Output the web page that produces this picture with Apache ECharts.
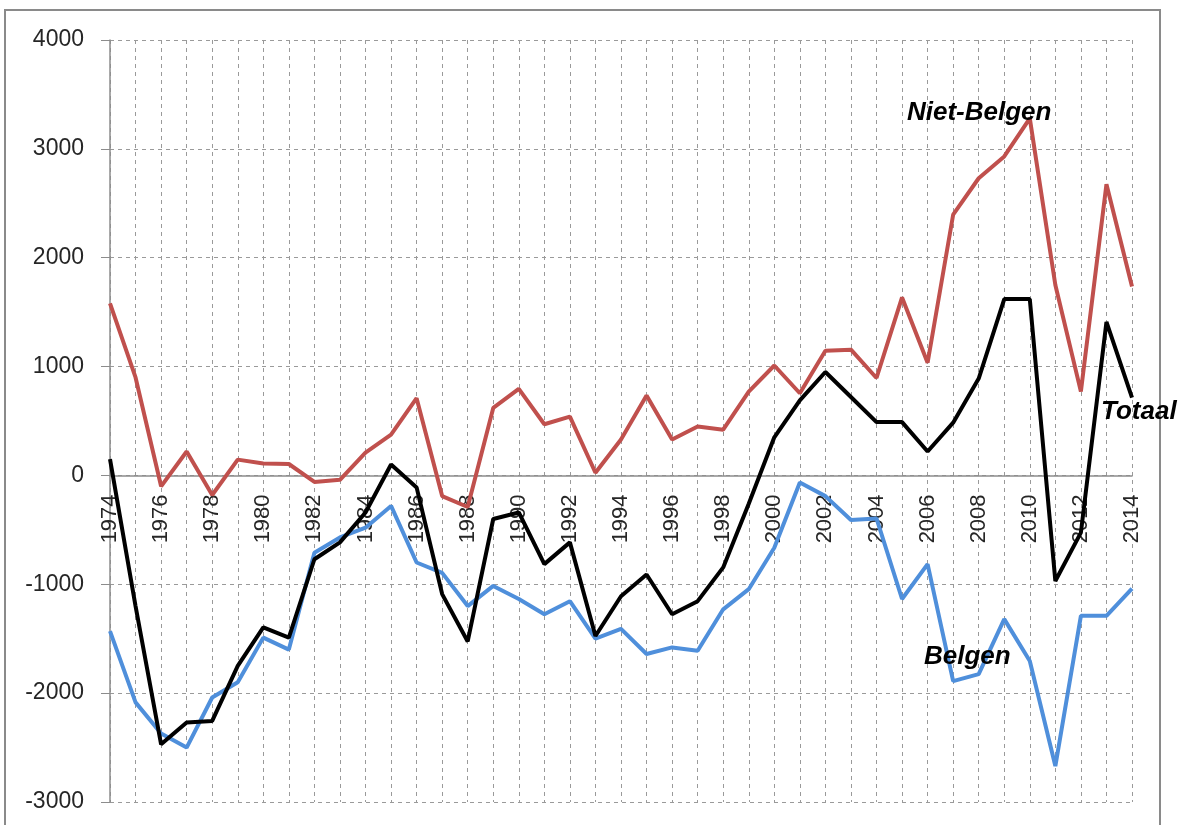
<!DOCTYPE html>
<html>
<head>
<meta charset="utf-8">
<script src="https://cdn.jsdelivr.net/npm/echarts@6/dist/echarts.min.js"></script>
<style>
  html, body { margin: 0; padding: 0; background: #fff; }
  #chart { width: 1194px; height: 825px; }
</style>
</head>
<body>
<div id="chart"></div>
<script>
// jaren 1974 - 2014
const years = [];
for (let y = 1974; y <= 2014; y++) years.push(String(y));

const nietBelgen = [
  1580, 900, -100, 220, -180, 145, 110, 105, -60, -40,
  210, 375, 710, -190, -290, 620, 795, 470, 540, 25,
  330, 735, 330, 450, 420, 770, 1010, 755, 1145, 1155,
  895, 1635, 1035, 2395, 2730, 2930, 3280, 1750, 770, 2675,
  1735
];

const totaal = [
  150, -1200, -2470, -2270, -2255, -1750, -1395, -1490, -770, -615,
  -340, 100, -110, -1090, -1525, -400, -340, -815, -615, -1475,
  -1110, -910, -1275, -1155, -845, -260, 350, 690, 950, 720,
  490, 490, 220, 485, 890, 1620, 1620, -970, -525, 1410,
  715
];

const belgen = [
  -1430, -2085, -2370, -2500, -2040, -1900, -1490, -1600, -710, -570,
  -480, -280, -800, -895, -1200, -1015, -1135, -1275, -1155, -1500,
  -1410, -1640, -1580, -1610, -1230, -1045, -665, -65, -190, -410,
  -395, -1135, -815, -1890, -1825, -1320, -1705, -2670, -1290, -1290,
  -1040
];

const yMin = -3000;
const yMax = 4000;
const gridTop = 40;
const gridBottom = 23;
const plotHeight = 825 - gridTop - gridBottom;
// x-as ligt op de nullijn
const zeroOffset = -plotHeight * (0 - yMin) / (yMax - yMin);

const chart = echarts.init(document.getElementById("chart"));

const annotStyle = {
  font: "italic bold 26px 'Liberation Sans', Arial, sans-serif",
  fill: "#000",
};

chart.setOption({
  animation: false,
  grid: { left: 110, right: 62, top: gridTop, bottom: gridBottom, containLabel: false },
  xAxis: {
    type: "category",
    data: years,
    boundaryGap: false,
    offset: zeroOffset,
    axisLine: { onZero: false, lineStyle: { color: "#8c8c8c", width: 1.5 } },
    axisTick: { show: false },
    axisLabel: {
      interval: 1,
      rotate: 90,
      margin: 19,
      fontFamily: "'Liberation Sans', Arial, sans-serif",
      fontSize: 22,
      color: "#262626",
    },
    splitLine: {
      show: true,
      interval: 0,
      lineStyle: { color: "#9a9a9a", type: [4, 4], width: 1 },
    },
  },
  yAxis: {
    type: "value",
    min: yMin,
    max: yMax,
    interval: 1000,
    axisLine: { show: true, lineStyle: { color: "#8c8c8c", width: 1.5 } },
    axisTick: { show: true, length: 9, lineStyle: { color: "#8c8c8c" } },
    axisLabel: {
      margin: 26,
      formatter: (v) => String(v),
      fontFamily: "'Liberation Sans', Arial, sans-serif",
      fontSize: 23,
      color: "#262626",
    },
    splitLine: {
      show: true,
      lineStyle: { color: "#9a9a9a", type: [4, 4], width: 1 },
    },
  },
  series: [
    {
      name: "Niet-Belgen",
      type: "line",
      data: nietBelgen,
      symbol: "none",
      lineStyle: { color: "#c0504d", width: 4 },
      z: 3,
    },
    {
      name: "Belgen",
      type: "line",
      data: belgen,
      symbol: "none",
      lineStyle: { color: "#4f8fdb", width: 4 },
      z: 3,
    },
    {
      name: "Totaal",
      type: "line",
      data: totaal,
      symbol: "none",
      lineStyle: { color: "#000", width: 4 },
      z: 4,
    },
  ],
  graphic: [
    {
      type: "rect",
      shape: { x: 5, y: 10, width: 1155, height: 830 },
      style: { fill: "none", stroke: "#8a8a8a", lineWidth: 2 },
      silent: true,
    },
    { type: "text", left: 907, top: 100, style: Object.assign({ text: "Niet-Belgen" }, annotStyle), z: 10 },
    { type: "text", left: 1101, top: 399, style: Object.assign({ text: "Totaal" }, annotStyle), z: 10 },
    { type: "text", left: 924, top: 644, style: Object.assign({ text: "Belgen" }, annotStyle), z: 10 },
  ],
});
</script>
</body>
</html>
